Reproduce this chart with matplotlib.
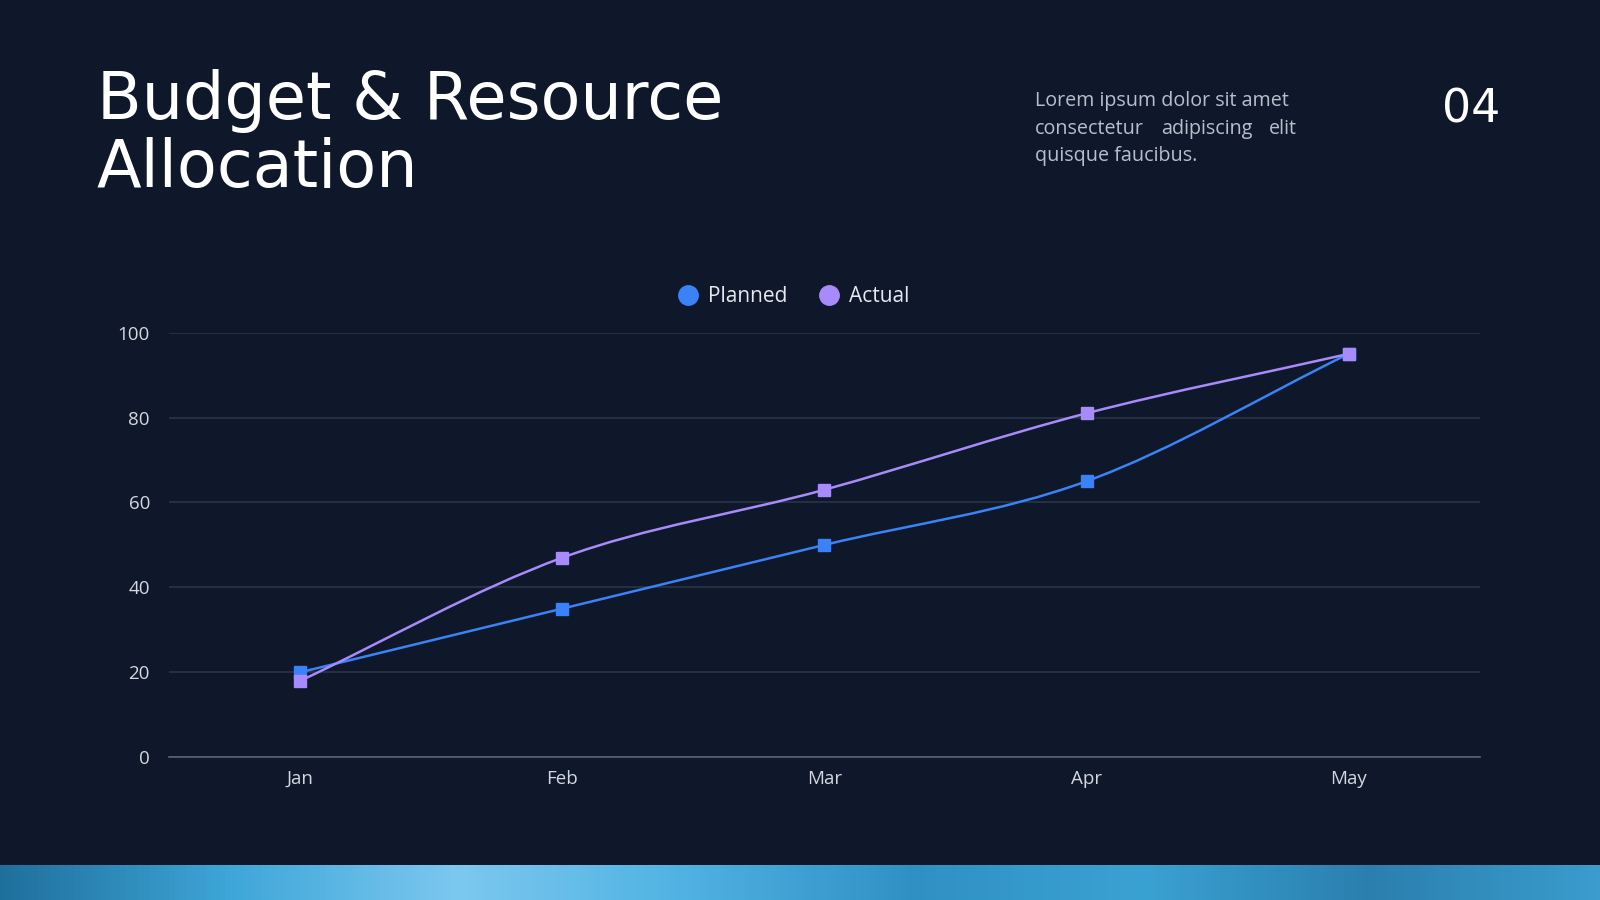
import numpy as np
import matplotlib
matplotlib.use("Agg")
import matplotlib.pyplot as plt
from matplotlib.path import Path
from matplotlib.patches import PathPatch
from matplotlib.lines import Line2D
from matplotlib.colors import LinearSegmentedColormap

# data
months = ["Jan", "Feb", "Mar", "Apr", "May"]
planned = [20, 35, 50, 65, 95]
actual = [18, 47, 63, 81, 95]
y_ticks = [0, 20, 40, 60, 80, 100]

BG = "#0f172a"
BLUE = "#3b82f6"
PURPLE = "#a78bfa"
GRID = "#2b3447"
TXT = "#d4d8e0"

plt.rcParams["font.family"] = ["Open Sans", "DejaVu Sans"]


def monotone_path(xs, ys):
    # monotone cubic (Fritsch-Carlson) as bezier segments
    xs = np.asarray(xs, float)
    ys = np.asarray(ys, float)
    n = len(xs)
    h = np.diff(xs)
    d = np.diff(ys) / h
    m = np.zeros(n)
    m[0], m[-1] = d[0], d[-1]
    for i in range(1, n - 1):
        if d[i - 1] * d[i] <= 0:
            m[i] = 0
        else:
            m[i] = (d[i - 1] + d[i]) / 2
    for i in range(n - 1):
        if d[i] == 0:
            m[i] = m[i + 1] = 0
            continue
        a, b = m[i] / d[i], m[i + 1] / d[i]
        s = a * a + b * b
        if s > 9:
            t = 3 / np.sqrt(s)
            m[i] = t * a * d[i]
            m[i + 1] = t * b * d[i]
    verts = [(xs[0], ys[0])]
    codes = [Path.MOVETO]
    for i in range(n - 1):
        dx = h[i] / 3
        verts += [(xs[i] + dx, ys[i] + m[i] * dx),
                  (xs[i + 1] - dx, ys[i + 1] - m[i + 1] * dx),
                  (xs[i + 1], ys[i + 1])]
        codes += [Path.CURVE4] * 3
    return Path(verts, codes)


fig = plt.figure(figsize=(16, 9), dpi=100, facecolor=BG)

# title block
fig.text(95 / 1568, 1 - 117 / 882, "Budget & Resource", color="white",
         fontsize=47, fontfamily=["DejaVu Sans"], va="baseline", ha="left")
fig.text(95 / 1568, 1 - 183 / 882, "Allocation", color="white",
         fontsize=47, fontfamily=["DejaVu Sans"], va="baseline", ha="left")

SUB = "#b8bfcc"
sub_y = [1 - 99 / 882, 1 - 126 / 882, 1 - 153 / 882]
fig.text(1014 / 1568, sub_y[0], "Lorem ipsum dolor sit amet", color=SUB,
         fontsize=14.2, va="center", ha="left")
fig.text(1014 / 1568, sub_y[1], "consectetur", color=SUB,
         fontsize=14.2, va="center", ha="left")
fig.text(1183 / 1568, sub_y[1], "adipiscing", color=SUB,
         fontsize=14.2, va="center", ha="center")
fig.text(1271 / 1568, sub_y[1], "elit", color=SUB,
         fontsize=14.2, va="center", ha="right")
fig.text(1014 / 1568, sub_y[2], "quisque faucibus.", color=SUB,
         fontsize=14.2, va="center", ha="left")
fig.text(1470 / 1568, 1 - 108 / 882, "04", color="white", fontsize=33,
         va="center", ha="right", fontfamily=["DejaVu Sans"])

# chart
ax = fig.add_axes([166 / 1568, 1 - 742 / 882, 1284 / 1568, 416 / 882])
ax.set_facecolor(BG)
x = np.arange(len(months))
ax.set_xlim(-0.5, len(months) - 0.5)
ax.set_ylim(0, 100)
ax.set_yticks(y_ticks)
ax.set_xticks(x)
ax.set_xticklabels(months)
for s in ["top", "right", "left"]:
    ax.spines[s].set_visible(False)
ax.spines["bottom"].set_color("#5b6577")
ax.spines["bottom"].set_linewidth(1.2)
ax.grid(axis="y", color=GRID, linewidth=1.2)
ax.set_axisbelow(True)
ax.tick_params(length=0, colors=TXT, labelsize=13.5)
ax.tick_params(axis="y", pad=14)
ax.tick_params(axis="x", pad=9)

for vals, col in [(planned, BLUE), (actual, PURPLE)]:
    ax.add_patch(PathPatch(monotone_path(x, vals), facecolor="none",
                           edgecolor=col, linewidth=1.8, zorder=3))
    ax.plot(x, vals, linestyle="none", marker="s", markersize=8.5,
            color=col, zorder=4)

handles = [Line2D([], [], linestyle="none", marker="o", markersize=14,
                  color=BLUE),
           Line2D([], [], linestyle="none", marker="o", markersize=14,
                  color=PURPLE)]
leg = fig.legend(handles, ["Planned", "Actual"], loc="center",
                 bbox_to_anchor=(0.496, 1 - 291 / 882), ncol=2,
                 frameon=False, handletextpad=0.45, columnspacing=1.5,
                 handlelength=1.0, prop={"size": 15})
for t in leg.get_texts():
    t.set_color("#e6e9ef")

# textured-ish strip at the bottom
strip = fig.add_axes([0, 0, 1, 34 / 882])
strip.axis("off")
cmap = LinearSegmentedColormap.from_list(
    "strip", ["#1f6f9c", "#3ea6d8", "#7cc8f0", "#4fb2e2", "#2f90c4",
              "#3aa2d2", "#2a7fae", "#3b9ccd"])
strip.imshow(np.linspace(0, 1, 512)[None, :], aspect="auto", cmap=cmap,
             extent=[0, 1, 0, 1])

fig.savefig("out.png", dpi=100, facecolor=BG)
